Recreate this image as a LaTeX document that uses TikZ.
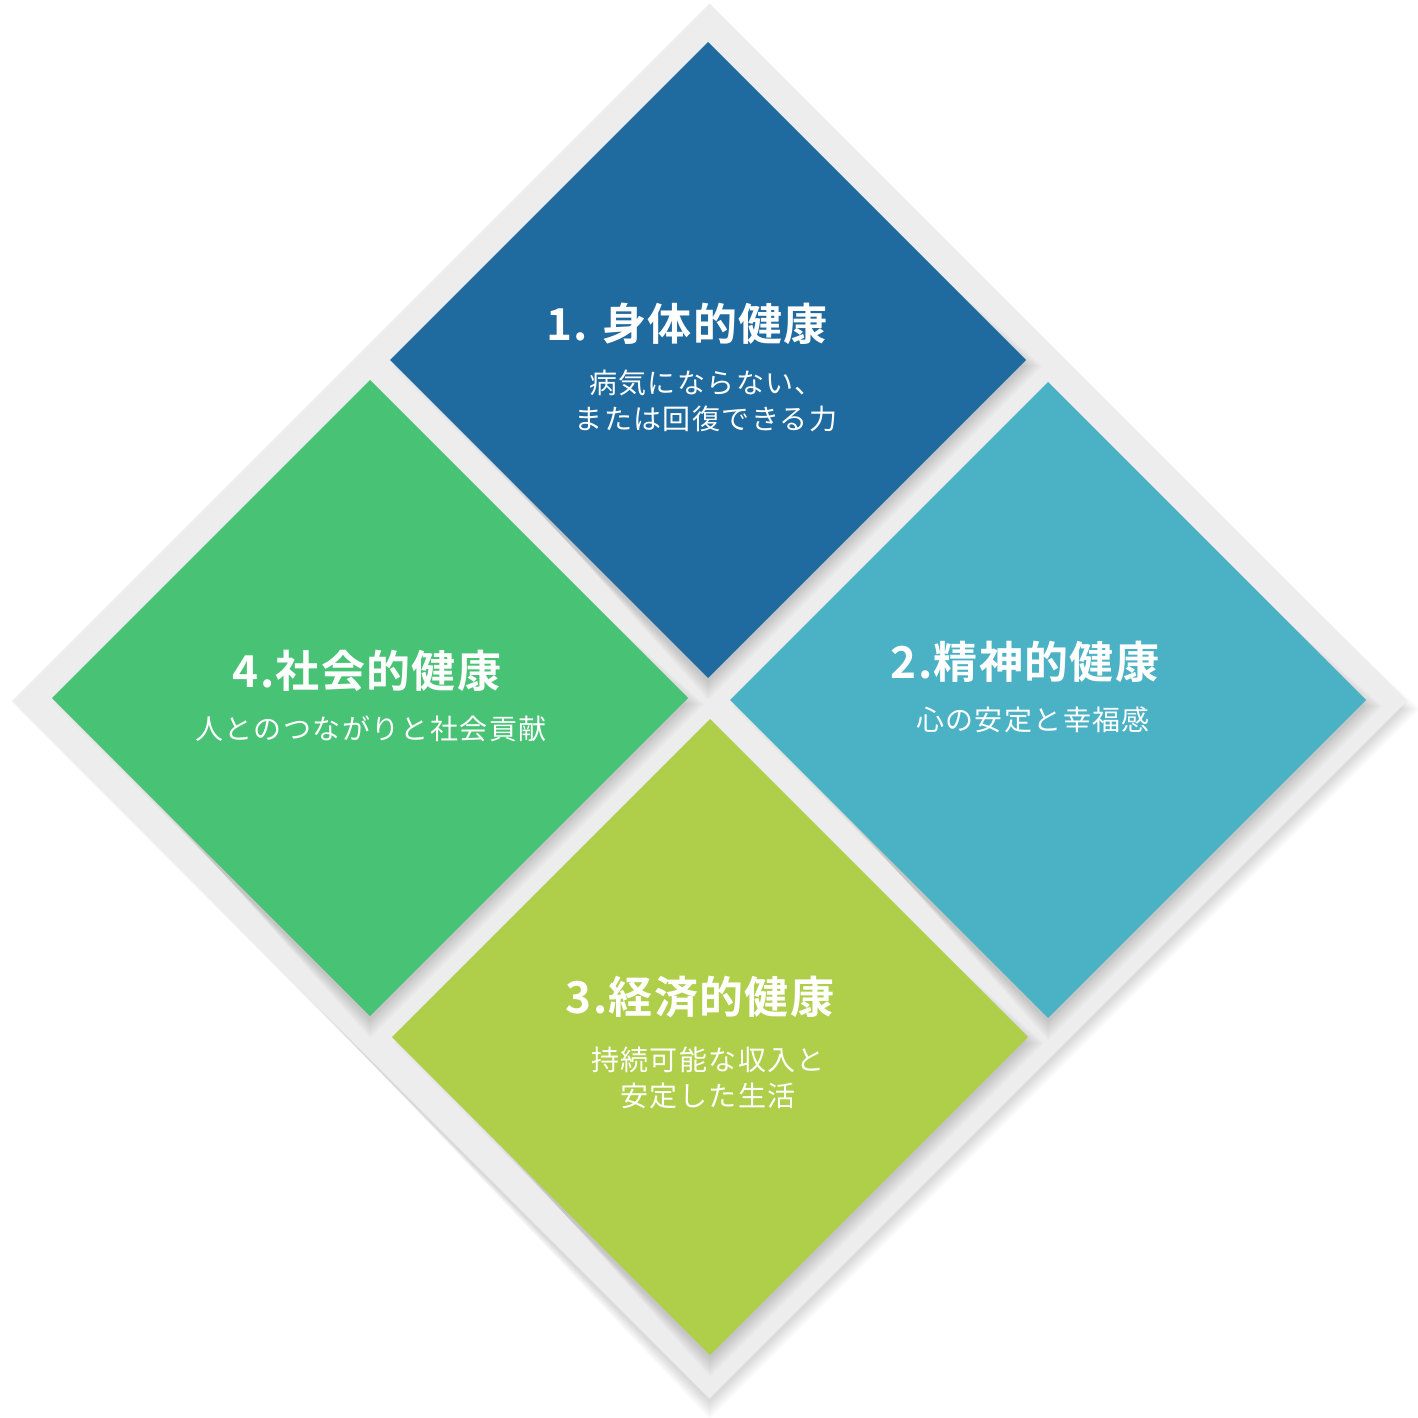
\documentclass[tikz,border=0pt]{standalone}
\usepackage{fontspec}
\newfontfamily\jpsub{Noto Sans CJK JP}[LetterSpace=5]
\newfontfamily\jptitle{Noto Sans CJK JP Bold}[LetterSpace=3]
\definecolor{cblue}{HTML}{1F6A9F}
\definecolor{cteal}{HTML}{4BB2C5}
\definecolor{clime}{HTML}{AFCE4A}
\definecolor{cgreen}{HTML}{48C274}
\definecolor{cgray}{HTML}{EDEDED}
\newcommand{\dpath}[3]{(#1,#2-#3) -- (#1+#3,#2) -- (#1,#2+#3) -- (#1-#3,#2) -- cycle}
\newcommand{\softshadow}[3]{%
  \foreach \d in {18,16,14,12,10,8,6,4,2,0}{%
    \fill[black,opacity=0.014] \dpath{#1}{#2+6}{#3+\d};
  }}
\tikzset{
  ttl/.style={text=white,font=\jptitle\fontsize{44}{48}\selectfont,inner sep=0pt,anchor=center},
  sub/.style={text=white,font=\jpsub\fontsize{28}{36}\selectfont,inner sep=0pt,anchor=center,align=center},
}
\begin{document}
\begin{tikzpicture}[x=1pt,y=-1pt]
\useasboundingbox (0,0) rectangle (1418,1418);
% background diamond
\softshadow{709.5}{703}{692}
\fill[cgray] \dpath{709.5}{701}{697.5};
% diamonds
\softshadow{708}{360}{316}
\softshadow{1048}{700}{316}
\softshadow{710}{1037}{316}
\softshadow{370}{698}{316}
\fill[cblue]  \dpath{708}{360}{318};
\fill[cteal]  \dpath{1048}{700}{318};
\fill[clime]  \dpath{710}{1037}{318};
\fill[cgreen] \dpath{370}{698}{318};
% texts
\node[ttl] (t1) at (687,324) {1. 身体的健康};
\node[sub] (s1) at (706,401) {病気にならない、\\または回復できる力};
\node[ttl] (t2) at (1025,662) {2.精神的健康};
\node[sub] (s2) at (1033,720) {心の安定と幸福感};
\node[ttl] (t3) at (700,997) {3.経済的健康};
\node[sub] (s3) at (708,1078) {持続可能な収入と\\安定した生活};
\node[ttl] (t4) at (367,671) {4.社会的健康};
\node[sub] (s4) at (371,729) {人とのつながりと社会貢献};
\end{tikzpicture}
\end{document}
